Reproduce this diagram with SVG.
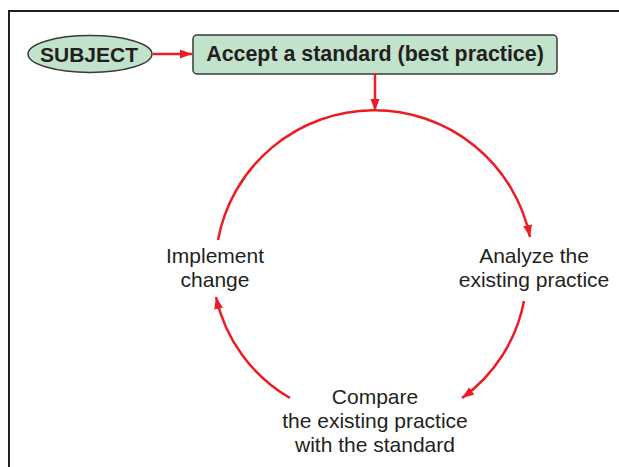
<svg xmlns="http://www.w3.org/2000/svg" width="619" height="467" viewBox="0 0 619 467">
<style>
.node-fill{fill:#c1e2cb;stroke:#3a3a3a;stroke-width:1.5}
.bold{font-family:"Liberation Sans",Arial,sans-serif;font-weight:bold;fill:#231f20;text-anchor:middle}
.lbl{font-family:"Liberation Sans",Arial,sans-serif;font-size:21px;fill:#231f20;text-anchor:middle}
.conn{fill:none;stroke:#ed1c24;stroke-width:2.5;marker-end:url(#ah)}
</style>
<defs>
<marker id="ah" markerUnits="userSpaceOnUse" markerWidth="13" markerHeight="10" refX="12" refY="4.5" orient="auto">
<path d="M0,0 L12,4.5 L0,9 z" fill="#ed1c24"/>
</marker>
</defs>
<rect width="619" height="467" fill="#ffffff"/>
<path d="M9 467 V11 H619" fill="none" stroke="#231f20" stroke-width="2"/>
<g id="subject">
<ellipse class="node-fill" cx="90" cy="54" rx="62" ry="18.5"/>
<text class="bold" x="89" y="62" font-size="21">SUBJECT</text>
</g>
<g id="standard">
<rect class="node-fill" x="193" y="35" width="364" height="39" rx="4"/>
<text class="bold" x="375" y="61" font-size="21.4">Accept a standard (best practice)</text>
</g>
<g id="analyze">
<text class="lbl" x="534" y="263">Analyze the</text>
<text class="lbl" x="534" y="287">existing practice</text>
</g>
<g id="compare">
<text class="lbl" x="375" y="404">Compare</text>
<text class="lbl" x="375" y="428">the existing practice</text>
<text class="lbl" x="375" y="452">with the standard</text>
</g>
<g id="implement">
<text class="lbl" x="215" y="263">Implement</text>
<text class="lbl" x="215" y="287">change</text>
</g>
<g id="connectors">
<path class="conn" d="M153 54 L192 54"/>
<path class="conn" d="M375 74 L375 111"/>
<path class="conn" d="M218 240 A159 159 0 0 1 530 237"/>
<path class="conn" d="M524 301 A155 155 0 0 1 462 398"/>
<path class="conn" d="M290 398 A155 155 0 0 1 216 297"/>
</g>
</svg>
